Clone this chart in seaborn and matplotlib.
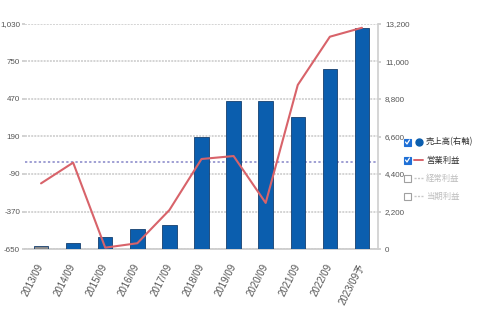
import numpy as np
import pandas as pd
import matplotlib
matplotlib.use("Agg")
import matplotlib.pyplot as plt
import seaborn as sns
from matplotlib.patches import Rectangle
from matplotlib.lines import Line2D

# Fiscal years (September year-end), last one is the forecast
years = ["2013/09", "2014/09", "2015/09", "2016/09", "2017/09", "2018/09",
         "2019/09", "2020/09", "2021/09", "2022/09", "2023/09予"]
# Net sales (right axis)
sales = [150, 330, 720, 1160, 1430, 6590, 8700, 8700, 7760, 10560, 12980]
# Operating profit (left axis)
operating_profit = [-160, -5, -640, -607, -359, 22, 44, -306, 575, 935, 1002]

left_ticks = [-650, -370, -90, 190, 470, 750, 1030]
right_ticks = [0, 2200, 4400, 6600, 8800, 11000, 13200]

legend_labels = ["売上高(右軸)", "営業利益", "経常利益", "当期利益"]
legend_active = [True, True, False, False]

BLUE = "#0b5eae"
GREY_BAR = "#8c8c8c"
RED = "#d8636a"
GRID = "#d4d4d4"
TICK_TXT = "#555555"

sns.set_theme(style="white")
plt.rcParams["font.family"] = ["Liberation Sans", "DejaVu Sans",
                               "Noto Sans CJK JP"]

W, H = 479, 331
fig = plt.figure(figsize=(W / 100, H / 100), dpi=100)
fig.patch.set_facecolor("white")

L, R, T, B = 25, 378, 24, 249
rect = [L / W, 1 - B / H, (R - L) / W, (B - T) / H]

df = pd.DataFrame({"year": years, "sales": sales, "op": operating_profit})
bar_palette = [GREY_BAR] + [BLUE] * (len(years) - 1)

# Base layer: left scale, grid and zero reference line
ax = fig.add_axes(rect)
ax.set_facecolor("white")
ax.set_ylim(left_ticks[0], left_ticks[-1])
ax.set_yticks(left_ticks)
ax.set_yticklabels([f"{v:,}" for v in left_ticks])
ax.yaxis.grid(True, color=GRID, linewidth=1.4, linestyle=(0, (1, 0.6)))
ax.axhline(0, color="#8585c8", linewidth=1.1, linestyle=(0, (1.5, 1.5)), zorder=1)
for s in ["top", "right", "left"]:
    ax.spines[s].set_visible(False)
ax.spines["bottom"].set_color("#cccccc")
ax.tick_params(axis="y", length=2, color="#cccccc", pad=1.5, labelsize=5.8,
               labelcolor=TICK_TXT)

# Bars on the right-hand scale
ax2 = ax.twinx()
sns.barplot(data=df, x="year", y="sales", hue="year", palette=bar_palette,
            legend=False, width=0.45, edgecolor="#163f6e", linewidth=0.6,
            saturation=1, ax=ax2)
ax2.set_ylim(right_ticks[0], right_ticks[-1])
ax2.set_yticks(right_ticks)
ax2.set_yticklabels([f"{v:,}" for v in right_ticks])
ax2.set_ylabel("")
ax2.set_xlabel("")
for s in ["top", "left", "bottom"]:
    ax2.spines[s].set_visible(False)
ax2.spines["right"].set_color("#d0d0d0")
ax2.tick_params(axis="y", length=2, color="#cccccc", pad=3, labelsize=5.8,
                labelcolor=TICK_TXT)

# Operating profit line on top, sharing the left scale
ax3 = ax.twinx()
sns.pointplot(data=df, x="year", y="op", color=RED, marker="", linewidth=1.5,
              errorbar=None, ax=ax3)
ax3.set_ylim(ax.get_ylim())
ax3.set_yticks([])
ax3.set_ylabel("")
ax3.set_xlabel("")
for s in ax3.spines.values():
    s.set_visible(False)

# Category axis
n = len(years)
ax.set_xlim(-0.5, n - 0.5)
ax.set_xticks(range(n))
ax.set_xticklabels(years, rotation=63, ha="right", va="center",
                   rotation_mode="anchor", fontsize=7, color=TICK_TXT)
ax.tick_params(axis="x", length=0, pad=11)
ax.set_xticks(np.arange(n - 1) + 0.5, minor=True)
ax.tick_params(axis="x", which="minor", direction="in", length=7,
               color="#e2e2e2", width=0.8)
ax.set_xlabel("")

# Legend with checkbox markers
def px(x, y):
    return x / W, 1 - y / H

rows_y = [142, 160, 178, 196]
for label, active, y in zip(legend_labels, legend_active, rows_y):
    bx, by = px(404, y + 3.5)
    cb = Rectangle((bx, by), 6.5 / W, 7 / H, transform=fig.transFigure,
                   facecolor="#1e6fd6" if active else "white",
                   edgecolor="#1e6fd6" if active else "#a0a0a0",
                   linewidth=0.8)
    fig.patches.append(cb)
    if active:
        xs, ys = zip(px(405.5, y), px(407, y + 2), px(409.5, y - 2))
        fig.lines.append(Line2D(xs, ys, transform=fig.transFigure,
                                color="white", linewidth=0.9))
    text_color = "#333333" if active else "#bdbdbd"
    if label == legend_labels[0]:
        mx, my = px(419, y)
        fig.lines.append(Line2D([mx], [my], transform=fig.transFigure,
                                marker="o", markersize=5, color=BLUE,
                                linestyle="none"))
    elif active:
        x0, y0 = px(414, y)
        x1, _ = px(423, y)
        fig.lines.append(Line2D([x0, x1], [y0, y0], transform=fig.transFigure,
                                color=RED, linewidth=1.4))
    else:
        x0, y0 = px(414, y)
        x1, _ = px(423, y)
        fig.lines.append(Line2D([x0, x1], [y0, y0], transform=fig.transFigure,
                                color="#c8c8c8", linewidth=1.0,
                                linestyle=(0, (1.5, 1))))
    tx, ty = px(426, y)
    fig.text(tx, ty, label, fontsize=6, color=text_color, va="center",
             ha="left", family=["Noto Sans CJK JP", "DejaVu Sans"])

fig.savefig("out.png", dpi=100, facecolor="white")
